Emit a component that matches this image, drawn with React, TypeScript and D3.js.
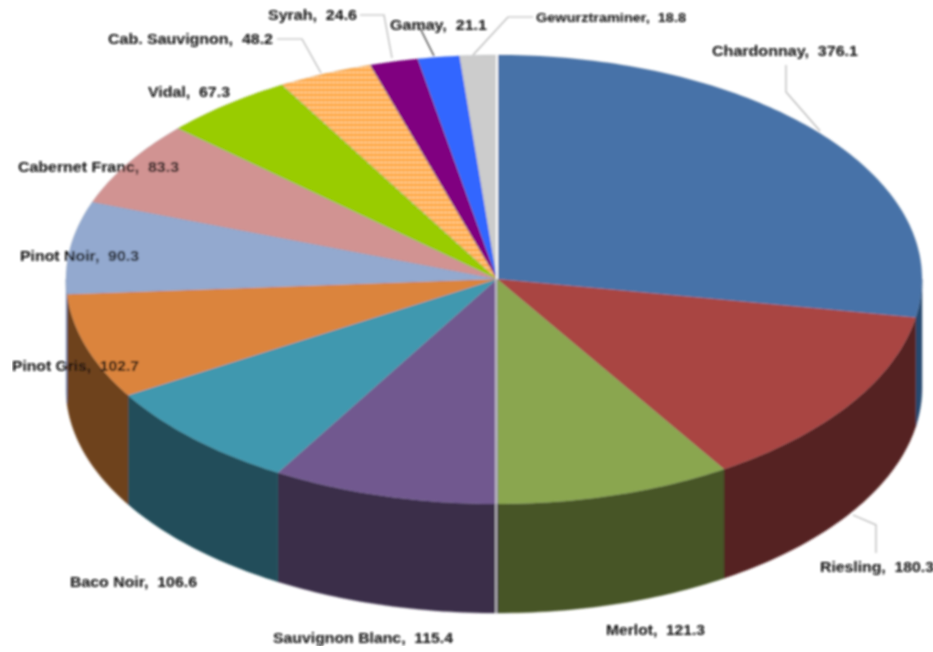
import * as React from 'react';
import * as d3 from 'd3';

// values, clockwise from 12 o'clock
const wines = ["Chardonnay", "Riesling", "Merlot", "Sauvignon Blanc", "Baco Noir", "Pinot Gris", "Pinot Noir",
    "Cabernet Franc", "Vidal", "Cab. Sauvignon", "Syrah", "Gamay", "Gewurztraminer"];
const tonnes = [376.1, 180.3, 121.3, 115.4, 106.6, 102.7, 90.3, 83.3, 67.3, 48.2, 24.6, 21.1, 18.8];

const topColours = ["#4672a8", "#a94543", "#8aa64f", "#71588f", "#4098af", "#db843d", "#93a9cf",
    "#d19392", "#99cc00", "url(#hatch)", "#800080", "#3366ff", "#cccccc"];
const wallColours = ["#284a70", "#542220", "#465427", "#3b2d4a", "#204e5a", "#6e421e", "#8096bd",
    "#684a49", "#4d6600", "#805830", "#400040", "#1a3380", "#666666"];

// label anchors (left x, baseline y) and drawn widths, same order as wines;
// the source picture was stretched sideways so the text is wider than the font
const labelPos = [[712, 56], [820, 572], [606, 635], [273, 643], [70, 587], [12, 371], [20, 261],
    [18, 172], [148, 97], [108, 44], [268, 20], [390, 30], [536, 22]];
const labelWidths = [146, 114, 99, 180, 127, 127, 119, 161, 82, 165, 89, 97, 150];
const labelSizes = [14, 14, 14, 14, 14, 14, 14, 14, 14, 14, 14, 14, 12.5];

const leaders = [
    {stroke: "#b4b4b4", pts: [[786, 65], [786, 92], [820, 131]]},
    {stroke: "#b4b4b4", pts: [[876, 553], [876, 525], [853, 515]]},
    {stroke: "#b4b4b4", pts: [[277, 39], [302, 39], [321, 73]]},
    {stroke: "#b4b4b4", pts: [[360, 15], [384, 15], [392, 58]]},
    {stroke: "#333333", pts: [[420, 28], [434, 56]]},
    {stroke: "#b4b4b4", pts: [[533, 17], [508, 17], [473, 55]]},
];

const WIDTH = 933;
const HEIGHT = 652;
const DEPTH = 109;

// the ellipse is slightly off centre round the apex, so the scales are piecewise
const xScale = d3.scaleLinear().domain([-1, 0, 1]).range([66, 497, 922]);
const yScale = d3.scaleLinear().domain([-1, 0, 1]).range([55, 279, 504]);

const onRim = (a: number, drop = 0): [number, number] => [xScale(Math.sin(a)), yScale(-Math.cos(a)) + drop];
const sweep = (a0: number, a1: number) => {
    const n = Math.max(2, Math.ceil(Math.abs(a1 - a0) * 60));
    return d3.range(n + 1).map(i => a0 + (a1 - a0) * i / n);
};
const line = d3.line();

const slices = d3.pie<number>().sort(null)(tonnes);

function topPath(s: d3.PieArcDatum<number>) {
    const apex: [number, number] = [xScale(0), yScale(0)];
    return line([apex, ...sweep(s.startAngle, s.endAngle).map(a => onRim(a))]) + "Z";
}

// only the front half of the rim has a wall
function wallPath(s: d3.PieArcDatum<number>) {
    const a0 = Math.max(s.startAngle, Math.PI / 2);
    const a1 = Math.min(s.endAngle, Math.PI * 1.5);
    if (a1 <= a0) return null;
    const angles = sweep(a0, a1);
    const upper = angles.map(a => onRim(a));
    const lower = angles.slice().reverse().map(a => onRim(a, DEPTH));
    return line([...upper, ...lower]) + "Z";
}

export default function App() {
    return (
        <svg width={WIDTH} height={HEIGHT} viewBox={`0 0 ${WIDTH} ${HEIGHT}`}
             style={{position: "absolute", left: 0, top: 0, background: "#fff"}}>
            <defs>
                <pattern id="hatch" width={4} height={5} patternUnits="userSpaceOnUse">
                    <rect width={4} height={5} fill="#ffad4f"/>
                    <rect y={2} width={3} height={1} fill="#ffe2b4"/>
                </pattern>
                {/* below 0.8 the browser's box blur rounds away to nothing */}
                <filter id="soft" x="0" y="0" width="100%" height="100%">
                    <feGaussianBlur stdDeviation={0.8}/>
                </filter>
            </defs>
            <g filter="url(#soft)">
                <g className="walls">
                    {slices.map((s, i) => {
                        const d = wallPath(s);
                        return d && <path key={wines[i]} d={d} fill={wallColours[i]} stroke={wallColours[i]} strokeWidth={0.4}/>;
                    })}
                </g>
                <g className="top">
                    {slices.map((s, i) => (
                        <path key={wines[i]} d={topPath(s)} fill={topColours[i]} stroke="#44546a" strokeOpacity={0.25} strokeWidth={0.5}/>
                    ))}
                </g>
                {/* light seam where the first and last slices meet, runs on past the apex */}
                <line x1={xScale(0)} x2={xScale(0)} y1={yScale(-1)} y2={yScale(0)} stroke="#fff" strokeWidth={2}/>
                <line x1={xScale(0) - 1} x2={xScale(0) - 1} y1={yScale(0)} y2={yScale(1) + DEPTH} stroke="#d8d8d8" strokeWidth={1.5}/>
                <g className="leaders">
                    {leaders.map((l, i) => (
                        <path key={i} d={line(l.pts as [number, number][])!} fill="none" stroke={l.stroke} strokeWidth={1.2}/>
                    ))}
                </g>
                <g className="labels" fontFamily="Liberation Sans, Arial, sans-serif" fontWeight="bold" fill="#0c0c0c">
                    {wines.map((w, i) => (
                        <text key={w} x={labelPos[i][0]} y={labelPos[i][1]} fontSize={labelSizes[i]}
                              textLength={labelWidths[i]} lengthAdjust="spacingAndGlyphs" style={{whiteSpace: "pre"}}>
                            {`${w},  ${tonnes[i].toFixed(1)}`}
                        </text>
                    ))}
                </g>
            </g>
        </svg>
    );
}
